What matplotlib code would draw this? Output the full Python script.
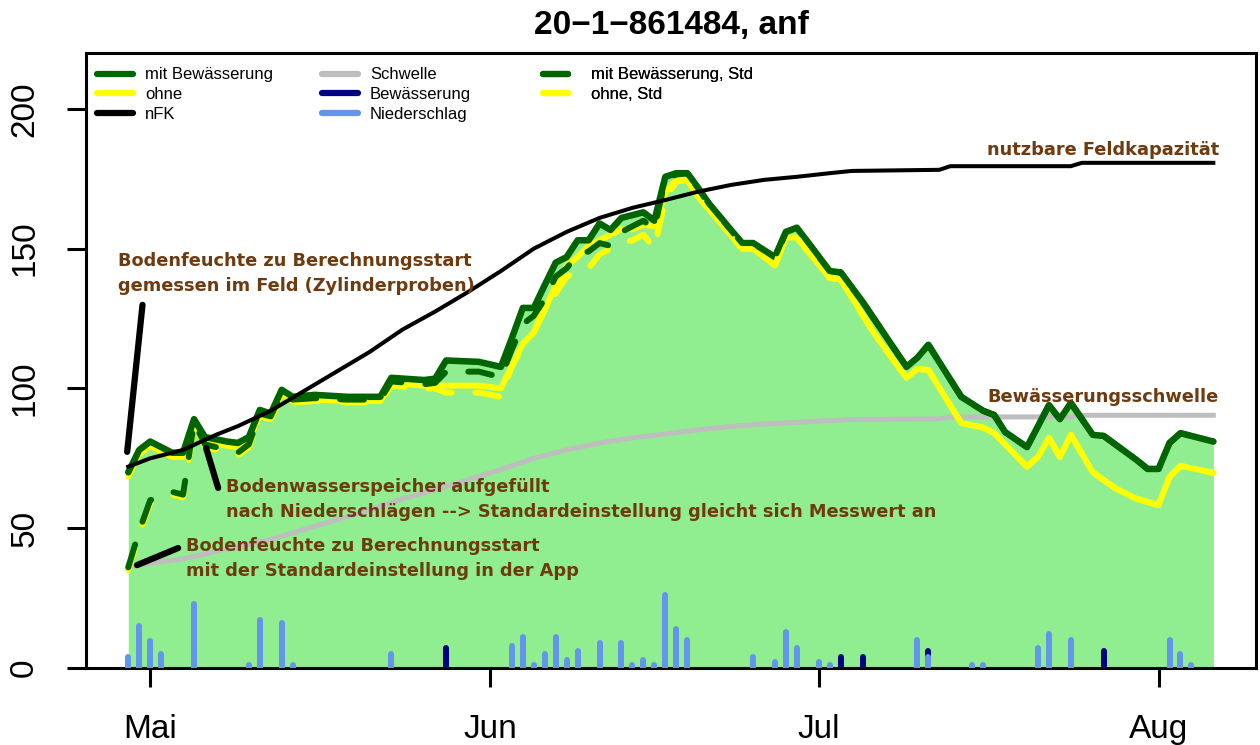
import datetime as dt
import matplotlib
matplotlib.use("Agg")
import matplotlib.pyplot as plt
import matplotlib.dates as mdates
from matplotlib.lines import Line2D

plt.rcParams['font.family'] = ['Liberation Sans', 'DejaVu Sans']

# Tage relativ zum 1. Mai
mit_tage = [-2, -1, 0, 2, 3, 4, 5, 7, 8, 9, 10, 11, 12, 13, 15, 18, 21, 22, 25, 26,
            27, 30, 32, 33, 34, 35, 36, 37, 38, 39, 40, 41, 42, 43, 44, 45, 46, 47, 48, 49,
            50, 51, 54, 55, 57, 58, 59, 62, 63, 65, 69, 70, 71, 74, 76, 77, 78, 80, 82, 83,
            84, 86, 87, 90, 91, 92, 93, 94, 97]
mit_werte = [70, 78, 81, 77, 77, 89, 82.6, 81, 80.5, 82.6, 92.3, 91, 99.5, 97, 97.7, 97, 97, 103.8, 103, 103.5,
             110, 109.5, 107.7, 118, 128.8, 128.8, 137, 145, 147, 153, 153, 159, 156.7, 161, 162, 163, 160, 175.7, 177, 177,
             171.7, 166, 152, 152, 147, 156, 157.5, 142, 141.5, 131, 107.7, 111, 115.6, 97, 92, 90.5, 84.4, 79, 94, 89,
             94.8, 83.4, 83, 74.4, 71.2, 71.2, 80.5, 84, 81]

ohne_tage = [-2, -1, 0, 2, 3, 4, 5, 7, 8, 9, 10, 11, 12, 13, 15, 18, 21, 22, 25, 26,
             27, 30, 32, 33, 34, 35, 36, 37, 38, 39, 40, 41, 42, 43, 44, 45, 46, 47, 48, 49,
             50, 51, 54, 55, 57, 58, 59, 62, 63, 66, 69, 70, 71, 74, 76, 77, 80, 81, 82, 83,
             84, 86, 88, 90, 92, 93, 94, 97]
ohne_werte = [68.5, 76.5, 79.5, 75.5, 75.5, 87.5, 81, 79.5, 79, 81, 90.8, 89.5, 98, 95.5, 96, 95.5, 95.5, 102, 101, 101,
              101, 101, 100, 108, 116, 120, 128, 137, 144, 147, 151, 153, 155, 157, 157, 158.5, 158, 170, 174.6, 174.6,
              168.5, 164, 150, 150, 144, 154, 154, 139.5, 139, 120, 103.8, 107, 106.6, 87.6, 86, 84, 72, 75.5, 82.3, 75.5,
              83.4, 70, 64.4, 60.5, 58.3, 68.3, 72.3, 69.8]

# Standardeinstellung (Start bei 50 % nFK), danach gleich wie oben
std_tage = [-2, -1, 0, 2, 3, 4, 5, 7, 8, 9, 10, 11, 12, 13, 15, 18, 21, 22, 25, 26,
            27, 30, 32, 33, 34, 35, 36, 37, 38, 39, 40, 41, 42, 43, 44, 45, 46, 47, 48, 49]
std_mit_werte = [36, 49, 60, 63, 62, 88, 80, 78, 77, 80, 91, 90, 98.5, 96, 96.5, 96, 96, 102.5, 101.5, 102,
                 106, 106, 104, 114, 123, 126, 132, 140, 143, 148, 149, 152, 151, 156, 158, 160, 157, 175, 176.5, 177]
std_ohne_werte = [35, 48, 59, 62, 61, 87, 79, 77, 76, 79, 90, 89, 97, 95, 95.5, 95, 95, 101, 100, 100,
                  98.5, 98.5, 97, 108, 115, 120, 130, 134, 140, 142, 143, 148, 150, 152, 153, 155, 150, 168, 174, 174.6]

nfk_tage = [-2, 0, 3, 6, 8, 11, 14, 17, 20, 23, 26, 29, 32, 35, 38, 41, 44, 47, 50, 53,
            56, 59, 62, 64, 72, 73, 84, 85, 97]
nfk_werte = [72, 75, 78, 83.4, 86.5, 92, 99, 106, 113, 121, 127.5, 134.5, 142, 150, 156, 161, 164.6, 167.4, 170.4, 172.8,
             174.6, 175.7, 177, 177.8, 178.2, 179.5, 179.5, 180.7, 180.7]
schwelle_werte = [36, 37.5, 39, 41.7, 43.3, 46, 49.5, 53, 56.5, 60.5, 63.8, 67.3, 71, 75, 78, 80.5, 82.3, 83.7, 85.2, 86.4,
                  87.3, 87.9, 88.5, 88.9, 89.1, 89.8, 89.8, 90.4, 90.4]

nied_tage = [-2, -1, 0, 1, 4, 9, 10, 12, 13, 22, 33, 34, 35, 36, 37, 38, 39, 41, 43, 44,
             45, 46, 47, 48, 49, 55, 57, 58, 59, 61, 62, 70, 71, 75, 76, 81, 82, 84, 93, 94, 95]
nied_mm = [4, 15, 9.7, 5, 23, 1, 17, 16, 1, 5, 8, 11, 1, 5, 11, 3, 6, 9, 9, 1,
           3, 1, 26, 14, 10, 4, 2, 13, 7, 2, 1, 10, 4, 1, 1, 7, 12, 10, 10, 5, 1]
bew_tage = [27, 63, 65, 71, 87]
bew_mm = [7, 4, 4, 6, 6]

monate = [dt.datetime(2020, 5, 1), dt.datetime(2020, 6, 1), dt.datetime(2020, 7, 1), dt.datetime(2020, 8, 1)]
monat_labels = ['Mai', 'Jun', 'Jul', 'Aug']

# Hinweislinien (Tag, Wert)
zeiger = [((-2.1, 77.3), (-0.7, 129.9)),
          ((5.1, 78.7), (6.2, 64.4)),
          ((-1.2, 36.8), (2.55, 42.9))]

start = dt.datetime(2020, 5, 1)


def datum(tage):
    return [start + dt.timedelta(days=d) for d in tage]


braun = '#6e3b10'
gruen = '#006400'
gelb = '#ffff00'

fig = plt.figure(figsize=(12.6, 7.45), dpi=100)
ax = fig.add_axes([0.0683, 0.1034, 0.9286, 0.8255])

ax.fill_between(datum(mit_tage), 0, mit_werte, color='#90ee90', lw=0, zorder=1)
ax.plot(datum(nfk_tage), schwelle_werte, color='#bebebe', lw=3.6, zorder=2)
ax.plot(datum(ohne_tage), ohne_werte, color=gelb, lw=4.3, zorder=3, solid_capstyle='round')
ax.plot(datum(mit_tage), mit_werte, color=gruen, lw=4.7, zorder=4, solid_capstyle='round')

i50 = mit_tage.index(50)
j50 = ohne_tage.index(50)
ax.plot(datum(std_tage + ohne_tage[j50:]), std_ohne_werte + ohne_werte[j50:], color=gelb, lw=4.3,
        ls=(0, (4, 4)), dash_capstyle='round', zorder=5)
ax.plot(datum(std_tage + mit_tage[i50:]), std_mit_werte + mit_werte[i50:], color=gruen, lw=4.3,
        ls=(0, (4, 4)), dash_capstyle='round', zorder=6)
ax.plot(datum(nfk_tage), nfk_werte, color='black', lw=2.9, zorder=7)

b1 = ax.vlines(datum(bew_tage), 0, bew_mm, color='#000080', lw=4.3, zorder=8)
b2 = ax.vlines(datum(nied_tage), 0, nied_mm, color='#6495ed', lw=4.3, zorder=9)
b1.set_capstyle('round')
b2.set_capstyle('round')

for (d0, v0), (d1, v1) in zeiger:
    ax.plot(datum([d0, d1]), [v0, v1], color='black', lw=4.5, solid_capstyle='round', zorder=10)

tf = dict(color=braun, fontsize=12.8, fontweight='bold', family='DejaVu Sans', linespacing=1.5, zorder=11)
ax.text(datum([-2.9])[0], 141, 'Bodenfeuchte zu Berechnungsstart\ngemessen im Feld (Zylinderproben)',
        ha='left', va='center', **tf)
ax.text(datum([6.93])[0], 60.1,
        'Bodenwasserspeicher aufgefüllt\nnach Niederschlägen --> Standardeinstellung gleicht sich Messwert an',
        ha='left', va='center', **tf)
ax.text(datum([3.28])[0], 39, 'Bodenfeuchte zu Berechnungsstart\nmit der Standardeinstellung in der App',
        ha='left', va='center', **tf)
ax.text(datum([97.5])[0], 185.3, 'nutzbare Feldkapazität', ha='right', va='center', **tf)
ax.text(datum([97.5])[0], 97, 'Bewässerungsschwelle', ha='right', va='center', **tf)

ax.set_xlim(datum([-5.85])[0], datum([100.9])[0])
ax.set_ylim(0, 220)
ax.set_xticks(monate)
ax.set_xticklabels(monat_labels)
ax.set_yticks([0, 50, 100, 150, 200])
ax.tick_params(axis='both', labelsize=24, width=2.2, length=14, direction='out')
ax.tick_params(axis='x', pad=19)
ax.tick_params(axis='y', pad=19, labelrotation=90)
for lab in ax.get_yticklabels():
    lab.set_va('center')
for sp in ax.spines.values():
    sp.set_linewidth(2.2)

ax.set_title('20\u22121\u2212861484, anf', fontsize=24, fontweight='bold', pad=14)

lw_leg = 4.5
spalten = [
    ([Line2D([], [], color=gruen, lw=lw_leg), Line2D([], [], color=gelb, lw=lw_leg),
      Line2D([], [], color='black', lw=lw_leg)],
     ['mit Bewässerung', 'ohne', 'nFK'], 0.0094),
    ([Line2D([], [], color='#bebebe', lw=lw_leg), Line2D([], [], color='#000080', lw=lw_leg),
      Line2D([], [], color='#6495ed', lw=lw_leg)],
     ['Schwelle', 'Bewässerung', 'Niederschlag'], 0.2017),
    ([Line2D([], [], color=gruen, lw=lw_leg, ls=(0, (4, 4))), Line2D([], [], color=gelb, lw=lw_leg, ls=(0, (4, 4)))],
     ['mit Bewässerung, Std', 'ohne, Std'], 0.3906),
]
for handles, labels, x0 in spalten:
    leg = ax.legend(handles, labels, loc='upper left', bbox_to_anchor=(x0, 0.9765), frameon=False,
                    fontsize=12, handlelength=2.16, handletextpad=0.72, labelspacing=0.29,
                    borderpad=0, borderaxespad=0)
    for h in leg.legend_handles:
        h.set_solid_capstyle('round')
        h.set_dash_capstyle('round')
    ax.add_artist(leg)

fig.savefig('out.png', dpi=100)
